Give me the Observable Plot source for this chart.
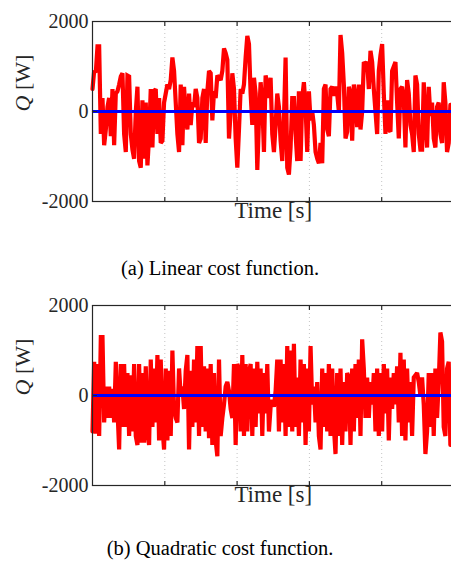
<!DOCTYPE html>
<html>
<head>
<meta charset="utf-8">
<script src="https://cdn.jsdelivr.net/npm/d3@7"></script>
<script src="https://cdn.jsdelivr.net/npm/@observablehq/plot@0.6"></script>
<style>
  html, body { margin: 0; padding: 0; background: #fff; overflow: hidden; }
  #page { position: relative; width: 451px; height: 561px; overflow: hidden; }
  .panel { position: absolute; left: 0; width: 460px; }
  .panel svg { max-width: none !important; width: 460px; height: 241px; }
  .caption { position: absolute; left: 0; width: 440px; text-align: center;
             font-family: "Liberation Serif", serif; font-size: 20.5px; line-height: 20px; color: #000; }
</style>
</head>
<body>
<div id="page"></div>
<script>
// ---- data ----
const yTicks = [-2000, 0, 2000];
const gridTimes = [1, 2, 3, 4];          // dotted vertical grid positions (time units)
const timeDomain = [0, 5];
const timeEnd = 4.95;                    // last sample time
const blueLevel = [0];                   // blue series (constant at 0 W)

const linearQ = [500, 900, 870, 1450, 1450, -500, 300, -750, -400, 100, 300, -550, 500, -750, 400, 450, 600, 780, 850, -500,
  -900, 800, 780, -500, -850, -1050, 0, 550, -1100, -1250, 250, -1050, 200, -1200, -550, 500, -800, 450, 500, -500,
  300, -700, -650, 200, 400, 600, 500, 700, 1200, 900, 200, -500, -900, 600, -750, 550, -100, -400, 400, -300,
  200, 100, 500, 300, -700, -600, 300, 500, -700, 450, 900, 850, -200, 450, 300, 800, 750, 700, 900, 1400,
  1300, 1150, -600, 0, 850, 500, -600, -1250, -400, 500, 400, 600, 1200, 1680, 1500, 400, -300, 750, 400, -1300,
  -200, 650, 200, -900, 800, 600, 300, 750, -500, -900, -300, 400, 100, -650, -1100, -200, 1200, -1250, -1400, -800,
  300, 300, -500, -1100, 450, -1100, 300, 650, 100, -900, 450, -200, 0, -300, -900, -1050, -1150, -700, -1150, 500,
  600, -400, -550, 500, 550, 350, 550, 400, 0, 1700, 1300, 600, -600, -450, 550, 400, -650, 600, 300, -350,
  600, -400, 0, 1100, 1050, 1100, 500, 1350, 1100, 500, 0, -500, 900, 1250, 1500, 400, -500, 250, -400, -450,
  900, 1000, 1100, 200, -600, 500, 550, 300, -800, 700, 400, -300, -500, -900, 800, 600, -500, -850, -850, 650,
  -200, -800, 550, -100, 200, -600, -800, 100, 200, -500, -700, 650, 200, -900, -700, 150];

const quadraticQ = [-800, 750, -850, 700, -900, 1300, 1300, -600, 200, -500, 200, -500, 150, -600, 750, -300, -1200, 700, -700, 700,
  -700, 500, -900, 450, -800, 700, -900, -1100, 700, -1050, 500, -1050, 650, -800, -1100, 800, -700, 600, -600, 900,
  -1000, 800, -700, -1200, 600, -1000, 550, -900, 1000, -300, -500, -600, 600, 0, 200, -300, 550, 900, -1200, 550,
  -700, 800, -600, 1100, -900, 1100, -700, 650, -800, 600, -950, 700, -1100, 500, -1000, -1350, 800, -900, -500, -200,
  200, 300, 100, -300, -500, 700, -1100, 700, 600, -800, 900, -900, 700, -800, 500, 700, -900, 600, -700, 750,
  -400, 600, -900, 500, -400, 700, -800, -250, -100, -250, 100, 800, -800, 800, -600, 700, -900, 1100, -700, 1000,
  -800, 1150, -700, 400, -900, 800, -600, 700, -1100, 600, -800, 1100, -200, 200, -600, 300, -900, -1200, 600, -700,
  500, -800, 700, -900, 600, -700, -1300, 500, -900, 600, -1100, 300, -800, 500, 400, -1100, 600, -800, 700, -500,
  800, -900, 1250, 600, -500, 400, -500, 300, -200, 500, -800, 600, -900, 500, -800, 700, -400, 600, -1000, 400,
  -300, 500, -200, 650, -600, 950, -900, 800, -1000, 600, -600, 300, -900, 400, 450, 500, 300, 0, 400, -200,
  -1300, -800, 500, -700, 500, -900, 600, -500, 300, 1400, 1200, -700, -900, 600, 750, -1100];

const xLabel = "Time [s]";
const yLabel = "Q [W]";
const captions = ["(a) Linear cost function.", "(b) Quadratic cost function."];

// ---- drawing ----
const FONT = "Liberation Serif";
const AXIS = "#262626";
const tickShape = { draw(ctx, l) { ctx.moveTo(0, 0); ctx.lineTo(0, -l); } };
const fmt = d => (d < 0 ? "-" + Math.abs(d) : String(d));

function panel(values) {
  const n = values.length;
  const data = values.map((q, i) => ({ t: (i / (n - 1)) * timeEnd, q }));
  const svg = Plot.plot({
    width: 460, height: 241,
    marginTop: 21, marginBottom: 40, marginLeft: 92, marginRight: 6.5,
    style: { fontFamily: FONT, background: "transparent", overflow: "visible", color: "#000", maxWidth: "none" },
    x: { domain: timeDomain, axis: null },
    y: { domain: [yTicks[0], yTicks[yTicks.length - 1]], axis: null },
    marks: [
      Plot.ruleX(gridTimes, { stroke: "#c4c4c4", strokeDasharray: "1,3", strokeWidth: 1 }),
      Plot.line(data, { x: "t", y: "q", stroke: "#ff0000", strokeWidth: 4.2, strokeLinejoin: "miter", strokeMiterlimit: 2 }),
      Plot.ruleY(blueLevel, { stroke: "#0000ff", strokeWidth: 3.2 }),
      Plot.frame({ stroke: AXIS, strokeWidth: 1.2 }),
      Plot.vector(gridTimes, { x: d => d, frameAnchor: "bottom", length: 4, shape: tickShape, anchor: "start", stroke: AXIS, strokeWidth: 1.2 }),
      Plot.vector(gridTimes, { x: d => d, frameAnchor: "top", rotate: 180, length: 4, shape: tickShape, anchor: "start", stroke: AXIS, strokeWidth: 1.2 }),
      Plot.vector(yTicks, { y: d => d, frameAnchor: "left", rotate: 90, length: 4, shape: tickShape, anchor: "start", stroke: AXIS, strokeWidth: 1.2 }),
      Plot.text(yTicks, { y: d => d, text: fmt, frameAnchor: "left", textAnchor: "end", dx: -4, fontSize: 20, fill: "#262626" }),
      Plot.text([xLabel], { frameAnchor: "bottom", dy: 16, fontSize: 23, fill: "#262626" }),
      Plot.text([yLabel], { frameAnchor: "left", dx: -70, rotate: -90, fontSize: 22, fill: "#262626" })
    ]
  });
  // italic Q in the y label
  svg.querySelectorAll("text").forEach(t => {
    if (t.textContent === yLabel) {
      const parts = yLabel.split(" ");
      t.textContent = "";
      const q = document.createElementNS("http://www.w3.org/2000/svg", "tspan");
      q.setAttribute("font-style", "italic");
      q.textContent = parts[0];
      t.appendChild(q);
      t.appendChild(document.createTextNode(" " + parts.slice(1).join(" ")));
    }
  });
  return svg;
}

const page = document.getElementById("page");
const tops = [0, 284];
const captionTops = [258, 538];
[linearQ, quadraticQ].forEach((vals, k) => {
  const div = document.createElement("div");
  div.className = "panel";
  div.style.top = tops[k] + "px";
  div.appendChild(panel(vals));
  page.appendChild(div);
  const cap = document.createElement("div");
  cap.className = "caption";
  cap.style.top = captionTops[k] + "px";
  cap.textContent = captions[k];
  page.appendChild(cap);
});
</script>
</body>
</html>
